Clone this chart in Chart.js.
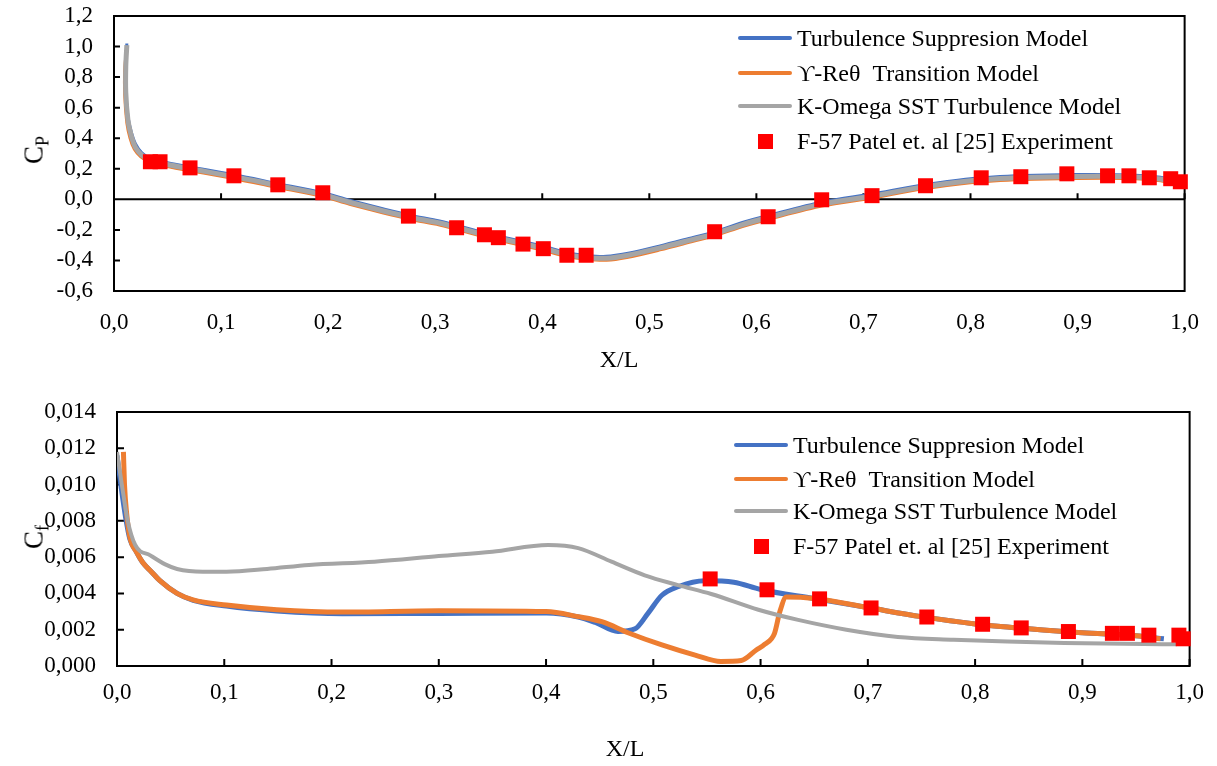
<!DOCTYPE html>
<html>
<head>
<meta charset="utf-8">
<script src="https://cdn.jsdelivr.net/npm/chart.js@4.4.0/dist/chart.umd.min.js"></script>
<style>
html,body{margin:0;padding:0;background:#fff;width:1217px;height:766px;overflow:hidden;font-family:"Liberation Serif","Times New Roman",serif;color:#000;}
.box{position:absolute;left:0;width:1217px;}
.ytitle{position:absolute;font-size:27px;white-space:nowrap;transform:translate(-50%,-50%) rotate(-90deg);line-height:1;}
.ytitle sub{font-size:18px;vertical-align:-6px;}
.xtitle{position:absolute;font-size:24px;white-space:nowrap;transform:translate(-50%,-50%);line-height:1;}
.lrow{position:absolute;white-space:pre;font-size:24px;line-height:30px;height:30px;}
.lline{position:absolute;height:4px;border-radius:2px;}
.lmark{position:absolute;width:15px;height:15px;}
</style>
</head>
<body>
<div class="box" style="top:0;height:385px;"><canvas id="c1" width="1217" height="385"></canvas></div>
<div class="box" style="top:385px;height:381px;"><canvas id="c2" width="1217" height="381"></canvas></div>
<div class="ytitle" style="left:36px;top:150px;">C<sub>P</sub></div>
<div class="ytitle" style="left:36px;top:537px;">C<sub>f</sub></div>
<div class="xtitle" style="left:619px;top:359px;">X/L</div>
<div class="xtitle" style="left:625px;top:748px;">X/L</div>
<div id="legends"></div>
<script>
// ---------- labels ----------
const seriesNames = ['Turbulence Suppresion Model', 'ϒ-Reθ  Transition Model', 'K-Omega SST Turbulence Model', 'F-57 Patel et. al [25] Experiment'];
const xTickLabels = ['0,0','0,1','0,2','0,3','0,4','0,5','0,6','0,7','0,8','0,9','1,0'];
const cpTickLabels = ['-0,6','-0,4','-0,2','0,0','0,2','0,4','0,6','0,8','1,0','1,2'];
const cfTickLabels = ['0,000','0,002','0,004','0,006','0,008','0,010','0,012','0,014'];

// ---------- Cp (top chart) ----------
const cpX_model = [0.012, 0.011, 0.011, 0.013, 0.016, 0.020, 0.026, 0.034, 0.050, 0.071, 0.111, 0.152, 0.195, 0.220, 0.276, 0.304, 0.346, 0.382, 0.401, 0.423, 0.441, 0.460, 0.479, 0.510, 0.541, 0.562, 0.587, 0.612, 0.662, 0.709, 0.750, 0.800, 0.850, 0.900, 0.950, 0.975, 0.996];
const cpX_GR    = [0.012, 0.010, 0.010, 0.012, 0.015, 0.019, 0.025, 0.034, 0.050, 0.071, 0.111, 0.152, 0.195, 0.220, 0.276, 0.304, 0.346, 0.382, 0.401, 0.423, 0.441, 0.460, 0.479, 0.510, 0.541, 0.562, 0.587, 0.612, 0.662, 0.709, 0.750, 0.800, 0.850, 0.900, 0.950, 0.975, 0.996];
const cpY_TS  = [1.020, 0.885, 0.715, 0.545, 0.445, 0.365, 0.305, 0.268, 0.240, 0.212, 0.162, 0.104, 0.043, -0.006, -0.104, -0.142, -0.219, -0.277, -0.307, -0.349, -0.367, -0.373, -0.355, -0.305, -0.249, -0.211, -0.152, -0.104, -0.017, 0.036, 0.088, 0.135, 0.156, 0.163, 0.160, 0.146, 0.122];
const cpY_GR  = [1.000, 0.850, 0.680, 0.500, 0.400, 0.327, 0.278, 0.242, 0.215, 0.187, 0.137, 0.079, 0.018, -0.032, -0.130, -0.168, -0.245, -0.303, -0.333, -0.375, -0.393, -0.399, -0.381, -0.331, -0.275, -0.237, -0.178, -0.130, -0.043, 0.009, 0.062, 0.109, 0.130, 0.137, 0.136, 0.124, 0.098];
const cpY_SST = [1.010, 0.870, 0.700, 0.520, 0.420, 0.340, 0.290, 0.255, 0.228, 0.200, 0.150, 0.092, 0.031, -0.019, -0.117, -0.155, -0.232, -0.290, -0.320, -0.362, -0.380, -0.386, -0.368, -0.318, -0.262, -0.224, -0.165, -0.117, -0.030, 0.022, 0.075, 0.122, 0.143, 0.150, 0.148, 0.135, 0.110];
const cpX_exp = [0.034, 0.043, 0.071, 0.112, 0.153, 0.195, 0.275, 0.320, 0.346, 0.359, 0.382, 0.401, 0.423, 0.441, 0.561, 0.611, 0.661, 0.708, 0.758, 0.810, 0.847, 0.890, 0.928, 0.948, 0.967, 0.987, 0.996];
const cpY_exp = [0.246, 0.246, 0.206, 0.154, 0.095, 0.043, -0.110, -0.186, -0.232, -0.251, -0.293, -0.323, -0.366, -0.366, -0.212, -0.114, -0.003, 0.024, 0.089, 0.141, 0.148, 0.167, 0.154, 0.154, 0.141, 0.135, 0.115];

// ---------- Cf (bottom chart) ----------
const cfX_TS  = [0.000, 0.004, 0.008, 0.012, 0.018, 0.024, 0.032, 0.040, 0.056, 0.071, 0.102, 0.149, 0.210, 0.300, 0.400, 0.430, 0.446, 0.467, 0.483, 0.495, 0.508, 0.523, 0.548, 0.575, 0.600, 0.650, 0.700, 0.750, 0.800, 0.850, 0.900, 0.950, 0.976];
const cfY_TS  = [0.0116, 0.0098, 0.0082, 0.0070, 0.0063, 0.0057, 0.0052, 0.0047, 0.0040, 0.00362, 0.00330, 0.00303, 0.00288, 0.00290, 0.00292, 0.00270, 0.00240, 0.00190, 0.00205, 0.00290, 0.00390, 0.00437, 0.00470, 0.00462, 0.00422, 0.00372, 0.00322, 0.00272, 0.00232, 0.00205, 0.00183, 0.00167, 0.00150];
const cfX_GR  = [0.006, 0.007, 0.009, 0.012, 0.018, 0.024, 0.032, 0.040, 0.056, 0.071, 0.102, 0.149, 0.210, 0.300, 0.400, 0.430, 0.452, 0.477, 0.508, 0.539, 0.563, 0.582, 0.596, 0.604, 0.613, 0.618, 0.624, 0.650, 0.700, 0.750, 0.800, 0.850, 0.900, 0.950, 0.973];
const cfY_GR  = [0.0118, 0.0100, 0.0084, 0.0071, 0.0063, 0.0057, 0.0052, 0.0047, 0.0040, 0.00364, 0.00336, 0.00310, 0.00297, 0.00305, 0.00300, 0.00272, 0.00244, 0.00182, 0.00116, 0.00060, 0.00025, 0.00030, 0.00088, 0.00120, 0.00180, 0.00300, 0.00380, 0.00372, 0.00322, 0.00272, 0.00232, 0.00205, 0.00183, 0.00167, 0.00150];
const cfX_SST = [0.000, 0.005, 0.010, 0.017, 0.031, 0.045, 0.056, 0.080, 0.102, 0.140, 0.179, 0.240, 0.300, 0.350, 0.402, 0.430, 0.461, 0.492, 0.523, 0.554, 0.598, 0.635, 0.680, 0.728, 0.780, 0.830, 0.883, 0.940, 0.988];
const cfY_SST = [0.0118, 0.0098, 0.0080, 0.00667, 0.0061, 0.0056, 0.00535, 0.0052, 0.0052, 0.00535, 0.00557, 0.00575, 0.00606, 0.0063, 0.00667, 0.0065, 0.00575, 0.0050, 0.00446, 0.00397, 0.0031, 0.00254, 0.0020, 0.0016, 0.00145, 0.00135, 0.00127, 0.00122, 0.0012];
const cfX_exp = [0.553, 0.606, 0.655, 0.703, 0.755, 0.807, 0.843, 0.887, 0.928, 0.942, 0.962, 0.990, 0.994];
const cfY_exp = [0.0048, 0.0042, 0.0037, 0.0032, 0.0027, 0.0023, 0.0021, 0.0019, 0.0018, 0.0018, 0.0017, 0.0017, 0.0015];

// ---------- style ----------
const FONT = '"Liberation Serif", "Times New Roman", serif';
const COLORS = ['#4472C4', '#ED7D31', '#A5A5A5', '#FF0000'];
const pts = (xs, ys) => xs.map((x, i) => ({x: x, y: ys[i]}));

const framePlugin = {
  id: 'frame',
  beforeDatasetsDraw(chart, args, o) {
    const {ctx, chartArea: a, scales} = chart;
    const x = scales.x, y = scales.y;
    ctx.save();
    ctx.strokeStyle = '#000';
    ctx.lineWidth = 2;
    ctx.strokeRect(a.left, a.top, a.right - a.left, a.bottom - a.top);
    const baseY = y.getPixelForValue(o.axisAt);
    ctx.beginPath();
    ctx.moveTo(a.left, baseY); ctx.lineTo(a.right, baseY);
    x.ticks.forEach(t => {
      const px = x.getPixelForValue(t.value);
      ctx.moveTo(px, baseY); ctx.lineTo(px, baseY - o.tick);
    });
    y.ticks.forEach(t => {
      const py = y.getPixelForValue(t.value);
      ctx.moveTo(a.left, py); ctx.lineTo(a.left + o.tick, py);
    });
    ctx.stroke();
    ctx.restore();
  }
};

function lineDs(label, data, color, width, order, extra) {
  return Object.assign({label, data, borderColor: color, backgroundColor: color, borderWidth: width,
    showLine: true, pointRadius: 0, pointHoverRadius: 0, fill: false, order}, extra || {});
}
function expDs(label, data) {
  return {label, data, showLine: false, pointStyle: 'rect', pointRadius: 10.6, pointBorderWidth: 0,
    backgroundColor: COLORS[3], borderColor: COLORS[3], order: 0, clip: false};
}

function makeChart(id, cfg) {
  return new Chart(document.getElementById(id), {
    type: 'scatter',
    data: {datasets: cfg.datasets},
    plugins: [framePlugin],
    options: {
      responsive: false, animation: false, events: [],
      layout: {padding: cfg.padding},
      plugins: {legend: {display: false}, tooltip: {enabled: false}, frame: cfg.frame},
      scales: {
        x: {
          type: 'linear', min: 0, max: 1, position: 'bottom',
          afterFit: s => { s.height = cfg.xHeight; },
          grid: {display: false, drawTicks: false}, border: {display: false},
          ticks: {stepSize: 0.1, padding: cfg.xTickPad, color: '#000', maxRotation: 0, autoSkip: false,
            font: {family: FONT, size: 23}, callback: (v, i) => xTickLabels[i]}
        },
        y: {
          type: 'linear', min: cfg.yMin, max: cfg.yMax,
          afterFit: s => { s.width = cfg.yWidth; },
          grid: {display: false, drawTicks: true, tickLength: 21, color: 'transparent', tickColor: 'transparent'},
          border: {display: false},
          ticks: {stepSize: cfg.yStep, padding: 0, color: '#000', autoSkip: false,
            font: {family: FONT, size: 23}, callback: (v, i) => cfg.yLabels[i]}
        }
      }
    }
  });
}

const chart1 = makeChart('c1', {
  datasets: [
    lineDs(seriesNames[0], pts(cpX_model, cpY_TS), COLORS[0], 3, 3, {tension: 0.3}),
    lineDs(seriesNames[1], pts(cpX_GR, cpY_GR), COLORS[1], 3, 2, {tension: 0.3}),
    lineDs(seriesNames[2], pts(cpX_model, cpY_SST), COLORS[2], 5, 1, {tension: 0.3}),
    expDs(seriesNames[3], pts(cpX_exp, cpY_exp))
  ],
  padding: {left: 0, top: 16, right: 32, bottom: 0},
  xHeight: 94, yWidth: 114, xTickPad: 18,
  yMin: -0.6, yMax: 1.2, yStep: 0.2, yLabels: cpTickLabels,
  frame: {axisAt: 0, tick: 6}
});

const chart2 = makeChart('c2', {
  datasets: [
    lineDs(seriesNames[0], pts(cfX_TS, cfY_TS), COLORS[0], 5, 3, {cubicInterpolationMode: 'monotone'}),
    lineDs(seriesNames[1], pts(cfX_GR, cfY_GR), COLORS[1], 5, 2, {cubicInterpolationMode: 'monotone'}),
    lineDs(seriesNames[2], pts(cfX_SST, cfY_SST), COLORS[2], 4, 1, {cubicInterpolationMode: 'monotone'}),
    expDs(seriesNames[3], pts(cfX_exp, cfY_exp))
  ],
  padding: {left: 0, top: 27, right: 24, bottom: 0},
  xHeight: 100, yWidth: 117, xTickPad: 13,
  yMin: 0, yMax: 0.014, yStep: 0.002, yLabels: cfTickLabels,
  frame: {axisAt: 0, tick: 7}
});

// ---------- legends (HTML, built from the datasets) ----------
function buildLegend(chart, L) {
  const host = document.getElementById('legends');
  chart.data.datasets.forEach((ds, i) => {
    const cy = L.rows[i];
    if (ds.showLine) {
      const ln = document.createElement('div');
      ln.className = 'lline';
      ln.style.left = L.lineLeft + 'px'; ln.style.width = L.lineW + 'px';
      ln.style.top = (cy - 2) + 'px'; ln.style.background = ds.borderColor;
      host.appendChild(ln);
    } else {
      const mk = document.createElement('div');
      mk.className = 'lmark';
      mk.style.left = (L.markX - 7.5) + 'px'; mk.style.top = (cy - 7.5) + 'px';
      mk.style.background = ds.backgroundColor;
      host.appendChild(mk);
    }
    const t = document.createElement('div');
    t.className = 'lrow';
    t.style.left = L.textLeft + 'px'; t.style.top = (cy - 15) + 'px';
    t.textContent = ds.label;
    host.appendChild(t);
  });
}
buildLegend(chart1, {rows: [38, 73, 106, 141], lineLeft: 738, lineW: 54, markX: 765, textLeft: 797});
buildLegend(chart2, {rows: [445, 479, 511, 546], lineLeft: 734, lineW: 54, markX: 761, textLeft: 793});
</script>
</body>
</html>
